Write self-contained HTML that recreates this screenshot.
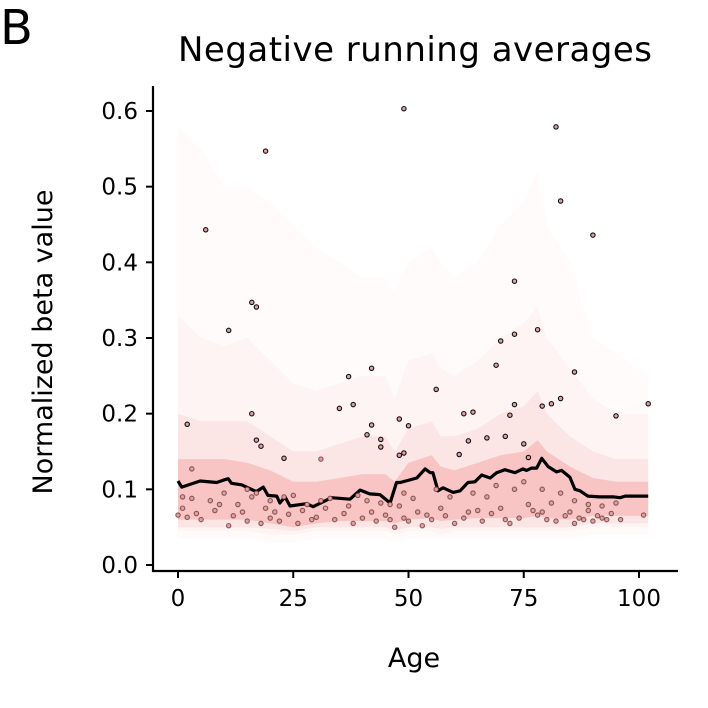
<!DOCTYPE html>
<html><head><meta charset="utf-8">
<style>
html,body{margin:0;padding:0;background:#fff;}
svg{display:block;font-family:"DejaVu Sans","Liberation Sans",sans-serif;}
</style></head>
<body>
<svg id="chart" width="708" height="708" viewBox="0 0 708 708">
  <text x="0" y="44" font-size="48">B</text>
  <text x="415" y="61" font-size="34" text-anchor="middle" textLength="474">Negative running averages</text>
  <g id="bands"></g>
  <g id="mean"></g>
  <g id="points"></g>
  <g id="axes"></g>
  <text x="414" y="667" font-size="27" text-anchor="middle">Age</text>
  <text transform="translate(52,342) rotate(-90)" font-size="27" text-anchor="middle">Normalized beta value</text>
</svg>
<script>
const bandAges = [0,5,10,15,20,25,30,35,40,45,47,50,55,57,60,65,70,75,78,80,85,90,95,102];
const band1Lo = [0.035,0.035,0.035,0.035,0.03,0.03,0.035,0.035,0.035,0.035,0.03,0.035,0.035,0.035,0.035,0.035,0.035,0.035,0.035,0.035,0.035,0.04,0.04,0.04];
const band1Hi = [0.58,0.55,0.5,0.5,0.48,0.45,0.42,0.4,0.38,0.38,0.36,0.4,0.42,0.4,0.38,0.4,0.45,0.48,0.52,0.45,0.4,0.3,0.28,0.25];
const band2Lo = [0.045,0.045,0.045,0.045,0.04,0.04,0.045,0.045,0.045,0.045,0.04,0.045,0.045,0.04,0.045,0.045,0.045,0.045,0.045,0.045,0.045,0.05,0.05,0.05];
const band2Hi = [0.33,0.3,0.29,0.3,0.27,0.24,0.23,0.24,0.25,0.25,0.22,0.27,0.28,0.26,0.25,0.27,0.3,0.32,0.34,0.3,0.26,0.22,0.2,0.2];
const band3Lo = [0.05,0.05,0.05,0.05,0.048,0.045,0.05,0.05,0.05,0.05,0.045,0.05,0.05,0.048,0.05,0.05,0.05,0.05,0.05,0.05,0.05,0.055,0.055,0.055];
const band3Hi = [0.2,0.19,0.19,0.19,0.17,0.15,0.15,0.16,0.17,0.17,0.15,0.18,0.19,0.17,0.17,0.18,0.2,0.21,0.23,0.2,0.17,0.15,0.14,0.14];
const band4Lo = [0.06,0.06,0.06,0.06,0.055,0.05,0.055,0.058,0.058,0.058,0.055,0.06,0.062,0.058,0.06,0.062,0.062,0.062,0.065,0.062,0.06,0.065,0.065,0.065];
const band4Hi = [0.14,0.14,0.14,0.135,0.125,0.11,0.11,0.115,0.12,0.12,0.11,0.135,0.145,0.13,0.125,0.135,0.145,0.15,0.165,0.15,0.13,0.115,0.11,0.11];

const meanAges = [0,0.8,4.8,8.4,9.8,10.9,11.6,13.8,17,18.5,19.5,21.4,22.1,23.2,24.3,27.9,29.3,33.3,37.3,39.5,41.6,43.8,46,47.4,48.2,51.8,53.6,54.7,55.3,56.4,57.5,59.7,61.2,62.9,64.4,65.9,67.7,69.1,70.9,73.1,74.8,75.6,76.7,77.8,78.9,80.3,82.1,83.2,85,86.1,87.2,88.9,91.5,94.4,95.9,97,102];
const meanVals = [0.111,0.103,0.111,0.109,0.112,0.114,0.108,0.106,0.097,0.103,0.092,0.091,0.082,0.090,0.078,0.081,0.077,0.089,0.087,0.099,0.094,0.093,0.082,0.109,0.109,0.115,0.127,0.122,0.122,0.098,0.102,0.096,0.098,0.109,0.110,0.119,0.115,0.122,0.126,0.122,0.127,0.125,0.128,0.128,0.141,0.130,0.123,0.125,0.116,0.100,0.098,0.091,0.090,0.090,0.089,0.091,0.091];

const pointAges = [6,19,49,82,83,90,11,16,17,2,16,17,18,73,73,70,69,78,86,56,42,37,35,38,48,41,42,44,48,49,50,72,73,79,83,81,62,64,95,102,3,23,31,44,61,67,71,75,76,63,
 0,1,2,4,5,8,9,11,12,14,15,16,18,19,20,21,22,24,26,27,29,30,32,34,36,38,40,42,43,45,46,47,48,49,50,52,53,54,55,57,58,60,62,63,65,66,68,70,71,72,74,76,77,78,79,80,81,82,84,85,86,87,88,89,90,91,92,93,94,96,101,
 1,3,7,10,13,15,17,20,23,25,28,31,33,37,39,41,44,46,49,51,56,59,64,67,69,73,75,79,83,86,89,92,95];
const pointVals = [0.443,0.547,0.603,0.579,0.481,0.436,0.310,0.347,0.341,0.186,0.200,0.165,0.157,0.375,0.305,0.296,0.264,0.311,0.255,0.232,0.260,0.249,0.207,0.212,0.193,0.172,0.185,0.166,0.145,0.148,0.184,0.198,0.212,0.210,0.220,0.213,0.200,0.202,0.197,0.213,0.127,0.141,0.140,0.156,0.146,0.168,0.170,0.160,0.142,0.164,
 0.066,0.075,0.063,0.068,0.060,0.072,0.080,0.052,0.065,0.070,0.058,0.090,0.055,0.075,0.062,0.070,0.058,0.067,0.055,0.072,0.060,0.063,0.075,0.060,0.068,0.055,0.062,0.070,0.058,0.066,0.060,0.050,0.078,0.062,0.058,0.070,0.052,0.066,0.060,0.075,0.065,0.055,0.062,0.070,0.072,0.058,0.068,0.075,0.060,0.055,0.062,0.080,0.072,0.066,0.070,0.060,0.082,0.058,0.065,0.070,0.055,0.062,0.060,0.072,0.058,0.065,0.062,0.060,0.068,0.060,0.066,
 0.090,0.088,0.085,0.095,0.080,0.100,0.095,0.085,0.090,0.092,0.080,0.085,0.088,0.078,0.092,0.085,0.082,0.080,0.095,0.088,0.100,0.090,0.095,0.090,0.105,0.100,0.110,0.100,0.095,0.085,0.080,0.078,0.082];

const yTicks = [0.0,0.1,0.2,0.3,0.4,0.5,0.6];
const yTickLabels = ["0.0","0.1","0.2","0.3","0.4","0.5","0.6"];
const xTicks = [0,25,50,75,100];
const xTickLabels = ["0","25","50","75","100"];

const NS = "http://www.w3.org/2000/svg";
function xs(a){ return 178 + a*4.61; }
function ys(v){ return 565 - v*756.7; }
function mk(tag, attrs, parent){
  const e = document.createElementNS(NS, tag);
  for (const k in attrs) e.setAttribute(k, attrs[k]);
  parent.appendChild(e);
  return e;
}

const bandsG = document.getElementById('bands');
function drawBand(lo, hi, op, name){
  let d = "";
  bandAges.forEach((a,i)=>{ d += (i?"L":"M") + xs(a).toFixed(1) + "," + ys(hi[i]).toFixed(1); });
  for (let i = bandAges.length-1; i >= 0; i--) d += "L" + xs(bandAges[i]).toFixed(1) + "," + ys(lo[i]).toFixed(1);
  d += "Z";
  const p = mk('path', {d:d, fill:'#f08080', 'fill-opacity':op}, bandsG);
  
  
}
drawBand(band1Lo, band1Hi, 0.03, 'band-outer');
drawBand(band2Lo, band2Hi, 0.06, 'band-wide');
drawBand(band3Lo, band3Hi, 0.13, 'band-mid');
drawBand(band4Lo, band4Hi, 0.32, 'band-core');

const meanG = document.getElementById('mean');
let md = "";
meanAges.forEach((a,i)=>{ md += (i?"L":"M") + xs(a).toFixed(1) + "," + ys(meanVals[i]).toFixed(1); });
const ml = mk('path', {d:md, fill:'none', stroke:'#000', 'stroke-width':3.2, 'stroke-linejoin':'round'}, meanG);



const ptsG = document.getElementById('points');
pointAges.forEach((a,i)=>{
  const v = pointVals[i];
  const hi = v > 0.14;
  const c = mk('circle', {cx:xs(a).toFixed(1), cy:ys(v).toFixed(1), r:2.2, fill:'#e0a0a0', stroke: hi ? '#111' : '#6a3535', 'stroke-width':1.1, 'stroke-opacity': hi ? 1 : 0.75}, ptsG);
  
  
});

const ax = document.getElementById('axes');
const yl = mk('line', {x1:153, y1:86, x2:153, y2:572, stroke:'#000', 'stroke-width':2.2}, ax);


const xl = mk('line', {x1:152, y1:571, x2:678, y2:571, stroke:'#000', 'stroke-width':2.2}, ax);


yTicks.forEach((t,i)=>{
  const y = ys(t);
  const tk = mk('line', {x1:146, y1:y, x2:153, y2:y, stroke:'#000', 'stroke-width':2}, ax);
  
  
  const tx = mk('text', {x:138, y:y+8, 'font-size':23, 'text-anchor':'end'}, ax);
  tx.textContent = yTickLabels[i];
  
  
});
xTicks.forEach((t,i)=>{
  const x = xs(t);
  const tk = mk('line', {x1:x, y1:571, x2:x, y2:578, stroke:'#000', 'stroke-width':2}, ax);
  
  
  const tx = mk('text', {x:x, y:606, 'font-size':23, 'text-anchor':'middle'}, ax);
  tx.textContent = xTickLabels[i];
  
  
});
</script>
</body></html>
